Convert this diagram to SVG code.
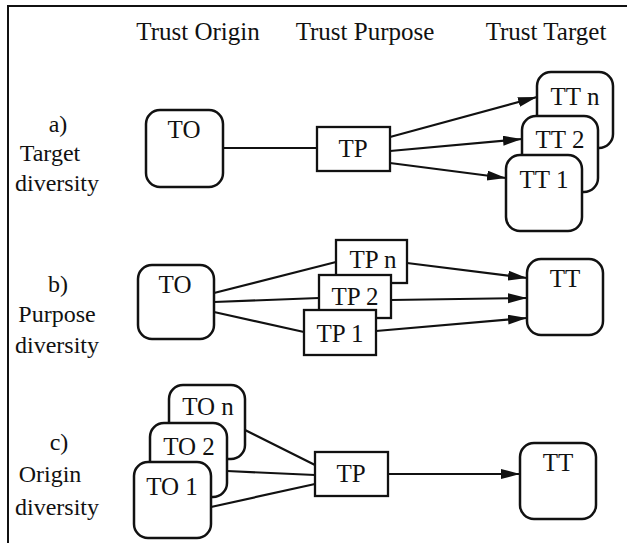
<svg xmlns="http://www.w3.org/2000/svg" width="627" height="543" viewBox="0 0 627 543">
<style>
  text { font-family: "Liberation Serif", "DejaVu Serif", serif; font-size: 24px; fill: #111; }
  .hdr { font-size: 25px; }
  .nl { font-size: 25px; }
  .lbl { text-anchor: middle; }
  .rbox { fill: #fff; stroke: #111; stroke-width: 2.5; }
  .sbox { fill: #fff; stroke: #111; stroke-width: 2.3; }
  .edge { stroke: #111; stroke-width: 2.2; fill: none; }
  .arr { marker-end: url(#ah); }
  .frame { stroke: #111; stroke-width: 2; fill: none; }
</style>
<defs>
  <marker id="ah" markerUnits="userSpaceOnUse" markerWidth="22" markerHeight="12" refX="19" refY="5" orient="auto">
    <path d="M0,0 L19,5 L0,10 z" fill="#111"/>
  </marker>
</defs>
<rect width="627" height="543" fill="#fff"/>
<path class="frame" d="M8,543 L8,6 L627,6"/>

<g id="headers">
  <text class="hdr lbl" x="198" y="40">Trust Origin</text>
  <text class="hdr lbl" x="365" y="40">Trust Purpose</text>
  <text class="hdr lbl" x="546" y="40">Trust Target</text>
</g>
<g id="row-labels">
  <text class="lbl" x="58" y="132">a)</text>
  <text class="lbl" x="50" y="161">Target</text>
  <text class="lbl" x="57" y="191">diversity</text>
  <text class="lbl" x="58" y="292">b)</text>
  <text class="lbl" x="57" y="322">Purpose</text>
  <text class="lbl" x="57" y="353">diversity</text>
  <text class="lbl" x="59" y="450">c)</text>
  <text class="lbl" x="50" y="482">Origin</text>
  <text class="lbl" x="57" y="515">diversity</text>
</g>

<g id="connectors">
  <line class="edge" x1="223" y1="148" x2="317" y2="148"/>
  <line class="edge arr" x1="390" y1="137" x2="537" y2="97"/>
  <line class="edge arr" x1="390" y1="151" x2="522" y2="139"/>
  <line class="edge arr" x1="390" y1="163" x2="506" y2="178"/>

  <line class="edge" x1="214" y1="293" x2="336" y2="262"/>
  <line class="edge" x1="214" y1="302" x2="319" y2="298"/>
  <line class="edge" x1="214" y1="312" x2="304" y2="332"/>
  <line class="edge arr" x1="407" y1="263" x2="527" y2="278"/>
  <line class="edge arr" x1="391" y1="300" x2="527" y2="298"/>
  <line class="edge arr" x1="376" y1="331" x2="527" y2="318"/>

  <line class="edge" x1="245" y1="430" x2="315" y2="465"/>
  <line class="edge" x1="227" y1="471" x2="315" y2="475"/>
  <line class="edge" x1="211" y1="507" x2="315" y2="484"/>
  <line class="edge arr" x1="388" y1="474" x2="520" y2="474"/>
</g>

<g id="a-TO"><rect class="rbox" x="146" y="110" width="77" height="77" rx="14"/><text class="lbl nl" x="184" y="138">TO</text></g>
<g id="a-TP"><rect class="sbox" x="317" y="127" width="73" height="44"/><text class="lbl nl" x="353" y="157">TP</text></g>
<g id="a-TTn"><rect class="rbox" x="537" y="72" width="76" height="76" rx="14"/><text class="lbl nl" x="575" y="105">TT n</text></g>
<g id="a-TT2"><rect class="rbox" x="522" y="116" width="76" height="76" rx="14"/><text class="lbl nl" x="560" y="148">TT 2</text></g>
<g id="a-TT1"><rect class="rbox" x="506" y="155" width="76" height="76" rx="14"/><text class="lbl nl" x="544" y="188">TT 1</text></g>

<g id="b-TO"><rect class="rbox" x="138" y="265" width="76" height="74" rx="14"/><text class="lbl nl" x="175" y="293">TO</text></g>
<g id="b-TPn"><rect class="sbox" x="336" y="240" width="71" height="43"/><text class="lbl nl" x="373" y="268">TP n</text></g>
<g id="b-TP2"><rect class="sbox" x="319" y="275" width="72" height="43"/><text class="lbl nl" x="355" y="305">TP 2</text></g>
<g id="b-TP1"><rect class="sbox" x="304" y="310" width="72" height="45"/><text class="lbl nl" x="340" y="342">TP 1</text></g>
<g id="b-TT"><rect class="rbox" x="527" y="259" width="76" height="76" rx="14"/><text class="lbl nl" x="565" y="287">TT</text></g>

<g id="c-TOn"><rect class="rbox" x="169" y="385" width="76" height="74" rx="14"/><text class="lbl nl" x="208" y="415">TO n</text></g>
<g id="c-TO2"><rect class="rbox" x="150" y="423" width="77" height="74" rx="14"/><text class="lbl nl" x="189" y="455">TO 2</text></g>
<g id="c-TO1"><rect class="rbox" x="134" y="462" width="77" height="76" rx="14"/><text class="lbl nl" x="172" y="495">TO 1</text></g>
<g id="c-TP"><rect class="sbox" x="315" y="452" width="73" height="44"/><text class="lbl nl" x="351" y="482">TP</text></g>
<g id="c-TT"><rect class="rbox" x="520" y="443" width="76" height="76" rx="14"/><text class="lbl nl" x="558" y="471">TT</text></g>
</svg>
